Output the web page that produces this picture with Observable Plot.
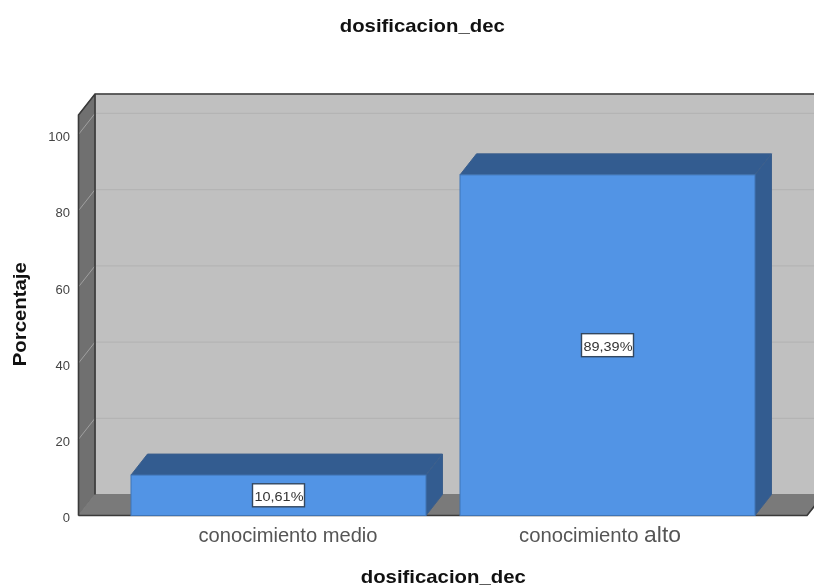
<!DOCTYPE html>
<html>
<head>
<meta charset="utf-8">
<style>html,body{margin:0;padding:0;background:#fff;overflow:hidden} svg{filter:blur(0.4px)}</style>
<script src="https://cdn.jsdelivr.net/npm/d3@7"></script>
<script src="https://cdn.jsdelivr.net/npm/@observablehq/plot@0.6"></script>
</head>
<body>
<div id="chart"></div>
<script>
const chartTitle = "dosificacion_dec";
const xTitle = "dosificacion_dec";
const yTitle = "Porcentaje";
const categories = ["conocimiento medio", "conocimiento alto"];
const percentages = [10.61, 89.39];
const yTicks = [0, 20, 40, 60, 80, 100];
const table = categories.map((c, i) => ({category: c, value: percentages[i]}));

const font = "'Liberation Sans', Arial, sans-serif";
const DX = 16.5, DY = 21;
const C = {back:"#c0c0c0", grid:"#b4b4b4", wall:"#707070", floor:"#7a7a7a", edge:"#3a3a3a",
  front:"#5294e5", frontEdge:"#3f74b5", dark:"#335c90", slant:"#a0a0a0"};

const poly = (g, pts, fill, stroke) => g.append("path")
  .attr("d", "M" + pts.map(p => p.join(",")).join("L") + "Z")
  .attr("fill", fill).attr("stroke", stroke || fill).attr("stroke-width", 1);
const bandOf = x => typeof x.bandwidth === "function" ? x.bandwidth() : x.bandwidth;

function shell(index, {y}, values, dim) {
  const g = d3.create("svg:g");
  const L = dim.marginLeft, R = dim.width - dim.marginRight, T = dim.marginTop, B = dim.height - dim.marginBottom;
  poly(g, [[L+DX,T-DY],[R+DX,T-DY],[R+DX,B-DY],[L+DX,B-DY]], C.back);
  for (const t of yTicks) {
    g.append("line").attr("x1", L+DX).attr("x2", R+DX).attr("y1", y(t)-DY).attr("y2", y(t)-DY)
      .attr("stroke", C.grid).attr("stroke-width", 1.2);
  }
  poly(g, [[L,T],[L+DX,T-DY],[L+DX,B-DY],[L,B]], C.wall);
  for (const t of yTicks.slice(1)) {
    g.append("line").attr("x1", L).attr("x2", L+DX).attr("y1", y(t)).attr("y2", y(t)-DY)
      .attr("stroke", C.slant).attr("stroke-width", 1);
  }
  poly(g, [[L,B],[R,B],[R+DX,B-DY],[L+DX,B-DY]], C.floor);
  g.append("path").attr("fill","none").attr("stroke",C.edge).attr("stroke-width",1.6)
    .attr("d",`M${L},${B}L${L},${T}L${L+DX},${T-DY}L${R+DX},${T-DY}M${L+DX},${T-DY}L${L+DX},${B-DY}`);
  g.append("path").attr("fill","none").attr("stroke",C.edge).attr("stroke-width",1.6)
    .attr("d",`M${L},${B}L${R},${B}L${R+DX},${B-DY}`);
  return g.node();
}

function faces(index, {x, y}) {
  const g = d3.create("svg:g");
  const w = bandOf(x);
  for (const d of table) {
    const a = x(d.category), b = a + w, t = y(d.value), z = y(0);
    poly(g, [[a,t],[b,t],[b+DX,t-DY],[a+DX,t-DY]], C.dark, "#3c5f8c");
    poly(g, [[b,t],[b+DX,t-DY],[b+DX,z-DY],[b,z]], C.dark, "#3c5f8c");
  }
  return g.node();
}

function labelBoxes(index, {x, y}) {
  const g = d3.create("svg:g");
  const w = bandOf(x);
  for (const d of table) {
    g.append("rect").attr("x", x(d.category)+w/2-26).attr("y", y(d.value/2)-11.5)
      .attr("width", 52).attr("height", 23).attr("fill","#fff")
      .attr("stroke","#33475f").attr("stroke-width",1.4);
  }
  return g.node();
}

const fmt = v => v.toFixed(2).replace(".", ",") + "%";
const bold = {lineAnchor: "middle", textAnchor: "middle", fontSize: 19, fontWeight: "bold", fill: "#111"};
const catText = {x: "category", text: "category", frameAnchor: "bottom", lineAnchor: "middle", dy: 19.5, fontSize: 19.5, fill: "#555"};

const plot = Plot.plot({
  width: 814, height: 587,
  marginLeft: 78.5, marginRight: 7, marginTop: 115, marginBottom: 71.5,
  style: {fontFamily: font, background: "#fff"},
  x: {domain: categories, paddingInner: 0.103, paddingOuter: 0.158, axis: null},
  y: {domain: [0, 105.1], axis: null},
  marks: [
    shell,
    faces,
    Plot.barY(table, {x: "category", y: "value", fill: C.front, stroke: C.frontEdge, strokeWidth: 1}),
    labelBoxes,
    Plot.text(table, {x: "category", y: d => d.value/2, text: d => fmt(d.value), fill: "#333", fontSize: 13.5, dy: 0.5}),
    Plot.axisY({ticks: yTicks, tickSize: 0, tickPadding: 9, dy: 2, label: null, fontSize: 13, color: "#444", anchor: "left", tickFormat: d => d}),
    Plot.text(table.slice(0,1), {...catText, dx: 9}),
    Plot.text(table.slice(1), {...catText, dx: -8}),
    Plot.text([chartTitle], {...bold, frameAnchor: "top", dy: -90, dx: -21}),
    Plot.text([xTitle], {...bold, frameAnchor: "bottom", dy: 60.5}),
    Plot.text([yTitle], {...bold, frameAnchor: "left", rotate: -90, dx: -59.5, dy: -1.5})
  ]
});
document.getElementById("chart").append(plot);

// Fit each label to the run measured in the reference.
const fitted = {[chartTitle]: 165, [yTitle]: 104, [categories[0]]: 179, [categories[1]]: 162,
  [fmt(percentages[0])]: 49, [fmt(percentages[1])]: 49};
for (const t of plot.querySelectorAll("text")) {
  const s = t.textContent;
  if (fitted[s]) {
    t.setAttribute("textLength", fitted[s]);
    t.setAttribute("lengthAdjust", "spacingAndGlyphs");
  }
  if (s === categories[1]) {
    const node = t.querySelector("tspan") || t;
    node.textContent = s.slice(0, -4);
    const span = document.createElementNS("http://www.w3.org/2000/svg", "tspan");
    span.setAttribute("font-size", "22");
    span.textContent = s.slice(-4);
    node.appendChild(span);
  }
}
</script>
</body>
</html>
